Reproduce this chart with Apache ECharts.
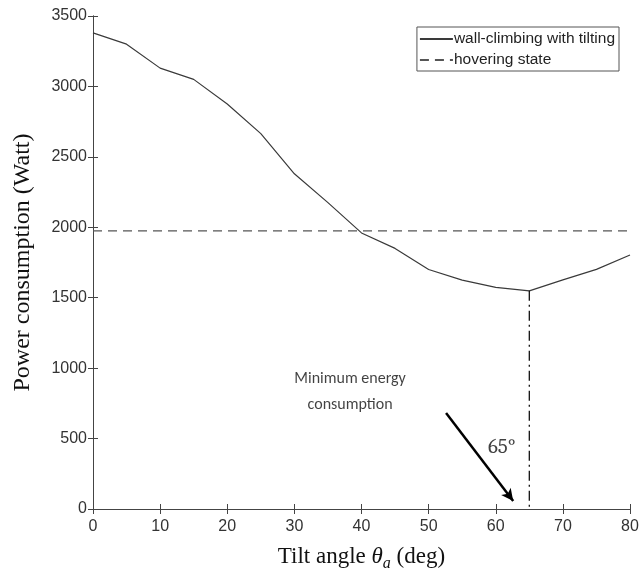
<!DOCTYPE html>
<html>
<head>
<meta charset="utf-8">
<script src="https://cdn.jsdelivr.net/npm/echarts@6/dist/echarts.min.js"></script>
<style>
  html, body { margin: 0; padding: 0; background: #fff; }
  #chart { width: 640px; height: 568px; }
</style>
</head>
<body>
<div id="chart"></div>
<script>
// Tilt angle (deg) and power drawn while climbing a wall with tilting
const tiltAngles = [0, 5, 10, 15, 20, 25, 30, 35, 40, 45, 50, 55, 60, 65, 70, 75, 80];
const climbPower = [3380, 3300, 3130, 3050, 2875, 2665, 2380, 2175, 1960, 1850, 1700, 1625, 1573, 1549, 1627, 1701, 1803];
// Constant power while hovering
const hoverPower = 1975;
const hoverRange = [0, 80];
// Optimum tilt angle
const optimumAngle = 65;
const optimumPower = 1549;
// Annotation anchors (data space)
const noteText = ['Minimum energy', 'consumption'];
const notePos = [38.3, 830];
const arrowFrom = [52.6, 681];
const arrowTo = [62.6, 57];
const angleLabel = '65°';
const angleLabelPos = [60.9, 440];

const axisColor = '#444';
const sansFont = "'Liberation Sans', Arial, sans-serif";
const serifFont = "'Liberation Serif', 'Times New Roman', serif";
const tickFont = { fontFamily: sansFont, fontSize: 16, color: '#333' };

const chart = echarts.init(document.getElementById('chart'));
chart.setOption({
  animation: false,
  backgroundColor: '#fff',
  grid: { left: 93, right: 10, top: 16, bottom: 59, containLabel: false, outerBoundsMode: 'none' },
  legend: {
    orient: 'vertical',
    right: 21,
    top: 27,
    itemWidth: 33,
    itemHeight: 12,
    itemGap: 5,
    padding: [4, 4, 3, 2],
    borderColor: '#555',
    borderWidth: 1,
    backgroundColor: '#fff',
    itemStyle: { opacity: 0 },
    textStyle: { fontFamily: sansFont, fontSize: 15.5, color: '#222', padding: [0, 0, 0, -4] },
    data: ['wall-climbing with tilting', 'hovering state']
  },
  xAxis: [{
    type: 'value', min: 0, max: 80, interval: 10,
    name: 'Tilt angle {th|θ}{sub|a} (deg)',
    nameLocation: 'middle', nameGap: 33,
    nameTextStyle: {
      fontFamily: serifFont, fontSize: 23, color: '#111',
      rich: {
        th: { fontFamily: serifFont, fontStyle: 'italic', fontSize: 23, color: '#111' },
        sub: { fontFamily: serifFont, fontStyle: 'italic', fontSize: 16, color: '#111', padding: [14, 0, 0, 0] }
      }
    },
    axisLine: { lineStyle: { color: axisColor } },
    axisTick: { inside: true, length: 5, lineStyle: { color: axisColor } },
    axisLabel: Object.assign({ margin: 10 }, tickFont),
    splitLine: { show: false }
  }, {
    type: 'value', min: 0, max: 80, interval: 10, position: 'top',
    axisLine: { show: true, lineStyle: { color: axisColor } },
    axisTick: { show: true, inside: true, length: 5, lineStyle: { color: axisColor } },
    axisLabel: { show: false },
    splitLine: { show: false }
  }],
  yAxis: [{
    type: 'value', min: 0, max: 3500, interval: 500,
    name: 'Power consumption (Watt)',
    nameLocation: 'middle', nameGap: 58,
    nameTextStyle: { fontFamily: serifFont, fontSize: 24, color: '#111' },
    axisLine: { show: true, lineStyle: { color: axisColor } },
    axisTick: { show: true, inside: true, length: 5, lineStyle: { color: axisColor } },
    axisLabel: Object.assign({ margin: 6, formatter: v => String(v) }, tickFont),
    splitLine: { show: false }
  }, {
    type: 'value', min: 0, max: 3500, interval: 500, position: 'right',
    axisLine: { show: true, lineStyle: { color: axisColor } },
    axisTick: { show: true, inside: true, length: 5, lineStyle: { color: axisColor } },
    axisLabel: { show: false },
    splitLine: { show: false }
  }],
  series: [{
    name: 'wall-climbing with tilting',
    type: 'line',
    symbol: 'none',
    lineStyle: { color: '#3a3a3a', width: 1.2 },
    itemStyle: { color: '#3a3a3a' },
    data: tiltAngles.map((a, i) => [a, climbPower[i]])
  }, {
    name: 'hovering state',
    type: 'line',
    symbol: 'none',
    lineStyle: { color: '#555', width: 1.2, type: [9, 6] },
    itemStyle: { color: '#555' },
    data: hoverRange.map(a => [a, hoverPower])
  }, {
    name: 'optimum',
    type: 'line',
    symbol: 'none',
    lineStyle: { color: '#111', width: 1.3, type: [10, 4, 2, 4] },
    data: [[optimumAngle, optimumPower], [optimumAngle, 0]],
    markLine: {
      silent: true,
      symbol: ['none', 'arrow'],
      symbolSize: [9, 12],
      lineStyle: { color: '#000', width: 2.5, type: 'solid' },
      label: { show: false },
      data: [[{ coord: arrowFrom }, { coord: arrowTo }]]
    }
  }, {
    name: 'notes',
    type: 'scatter',
    symbolSize: 0,
    silent: true,
    data: [
      { value: notePos, label: { formatter: noteText.join('\n'), fontFamily: "Carlito, Calibri, 'Open Sans', sans-serif", fontSize: 16, lineHeight: 26, color: '#111' } },
      { value: angleLabelPos, label: { formatter: angleLabel, fontFamily: "Caladea, Cambria, 'DejaVu Serif', serif", fontSize: 21, color: '#111' } }
    ],
    label: { show: true, position: 'inside' }
  }]
});
</script>
</body>
</html>
